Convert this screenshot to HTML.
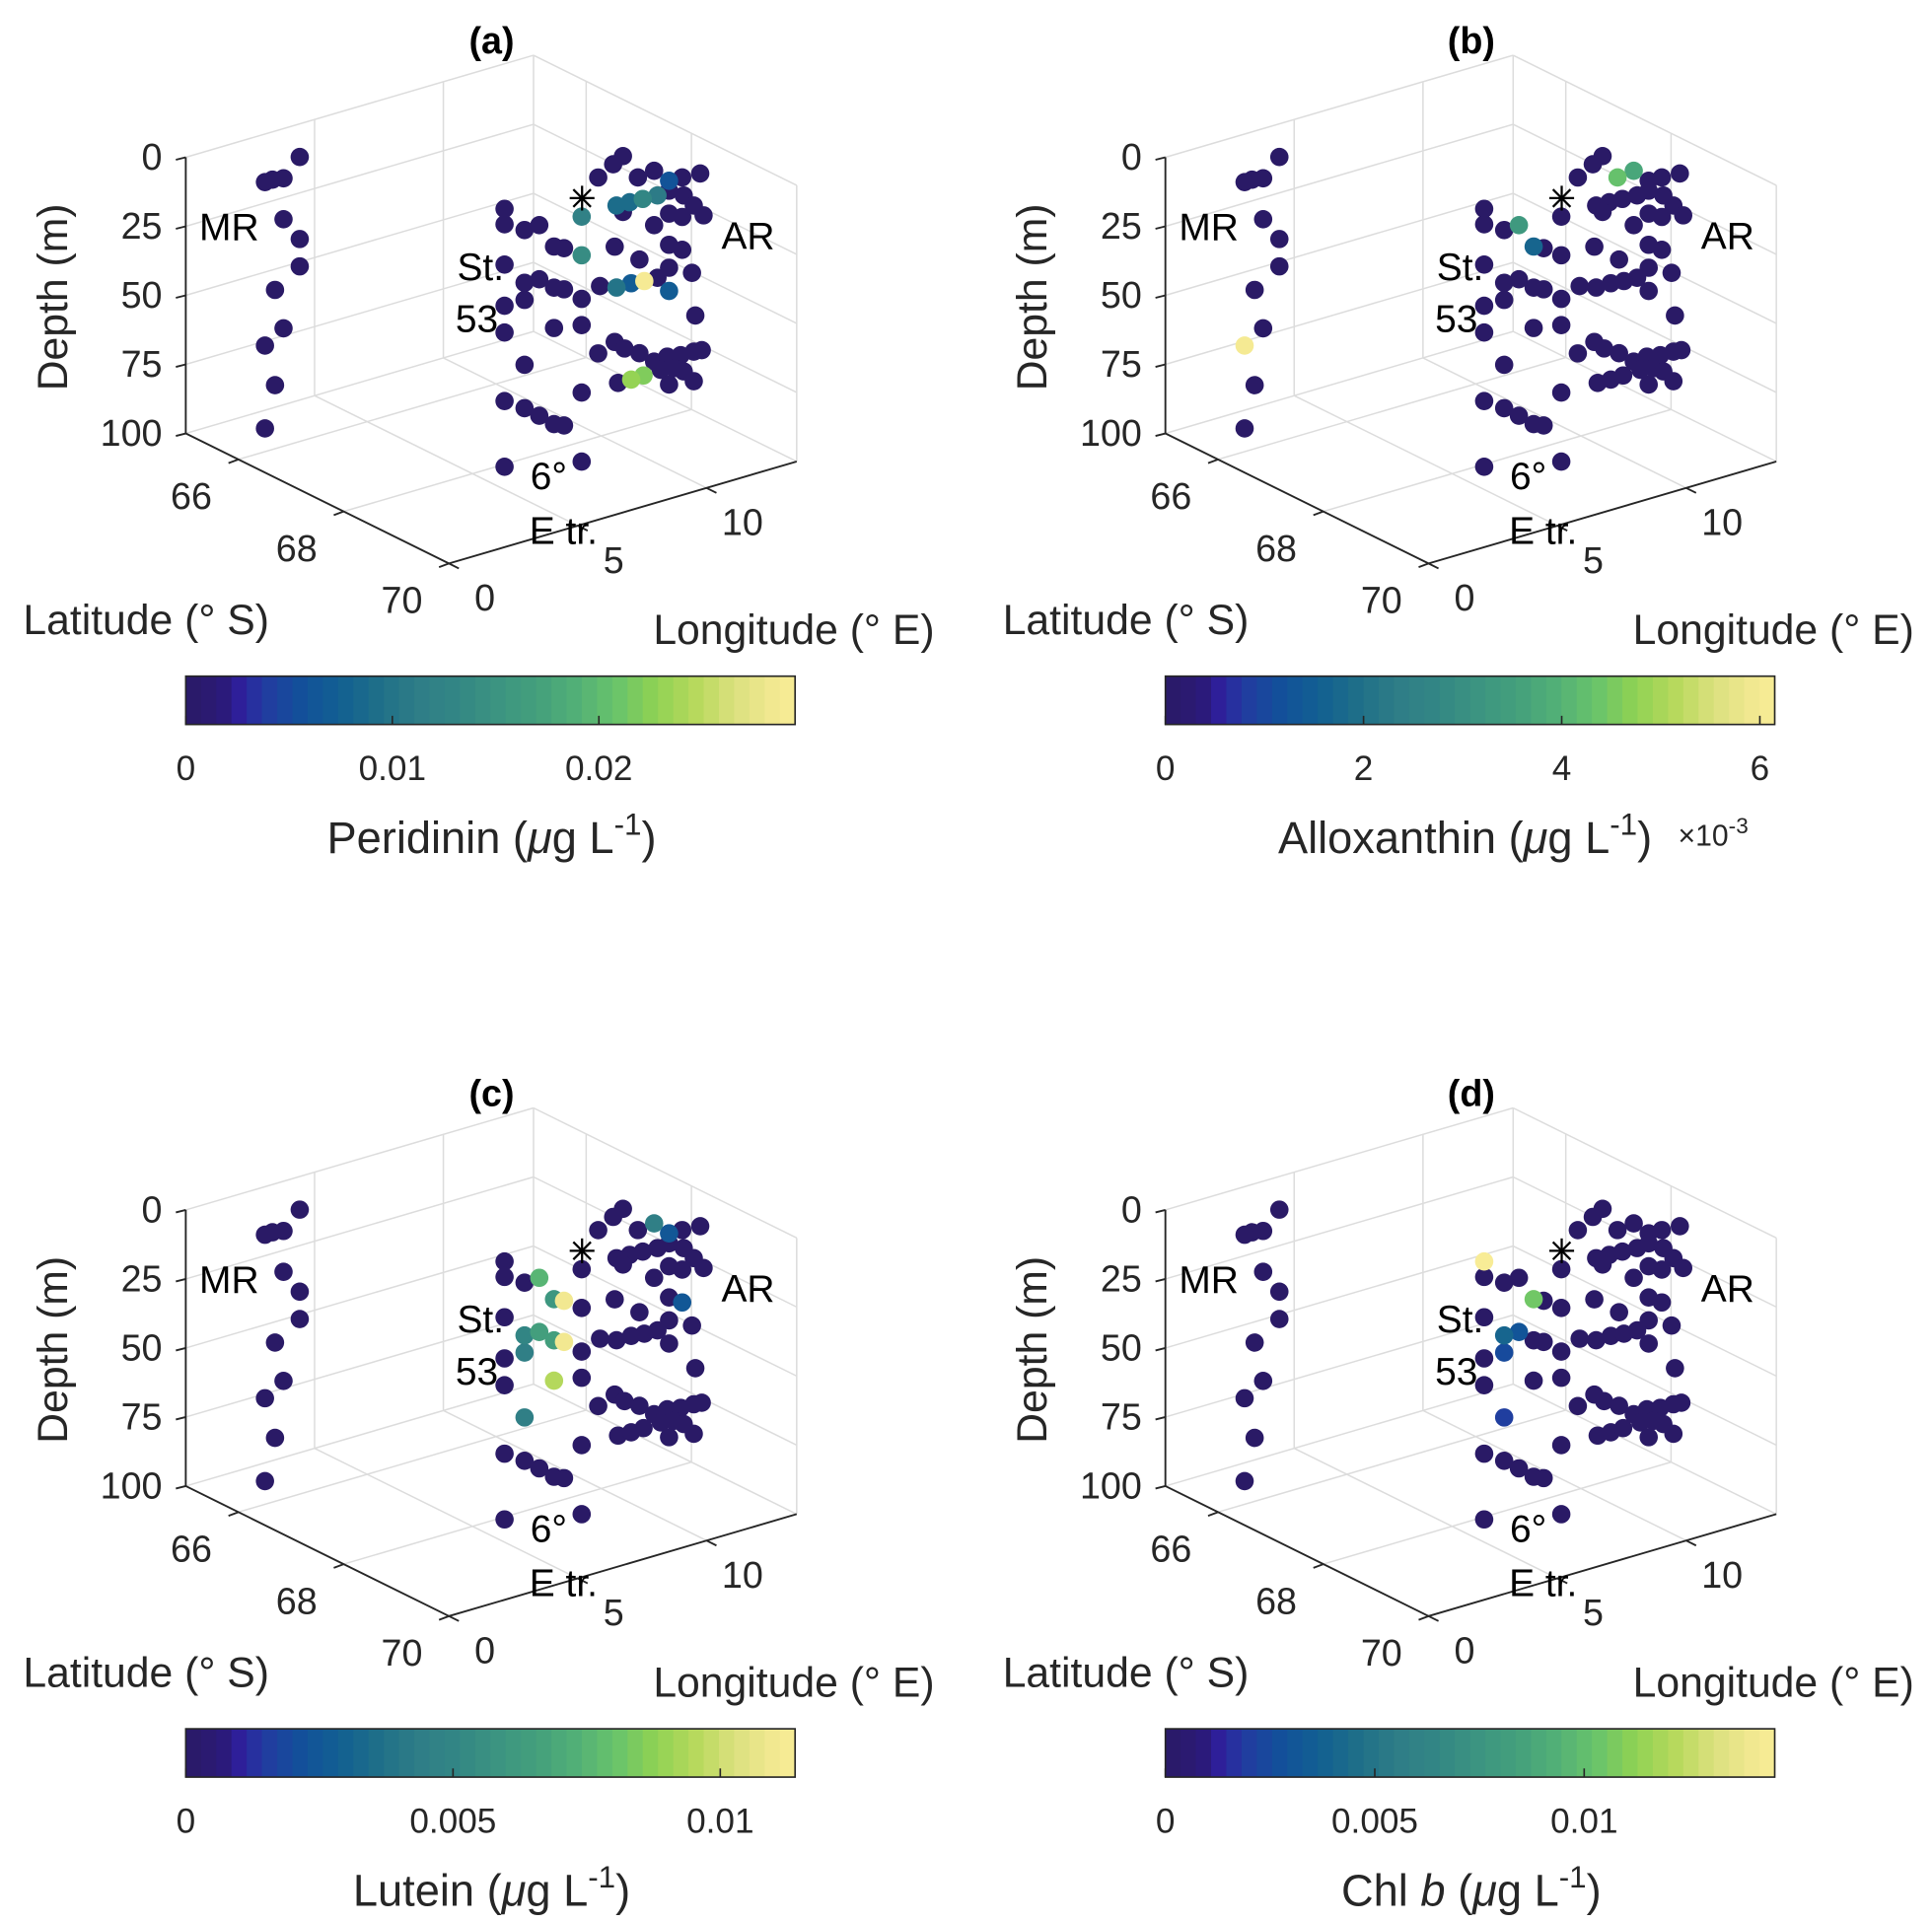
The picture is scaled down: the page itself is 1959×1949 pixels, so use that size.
<!DOCTYPE html>
<html><head><meta charset="utf-8">
<style>
html,body{margin:0;padding:0;background:#fff;}
svg{display:block;font-family:"Liberation Sans",Arial,sans-serif;}
</style></head>
<body>
<svg id="fig" width="1959" height="1949" viewBox="0 0 1560 1552" preserveAspectRatio="none" xmlns="http://www.w3.org/2000/svg"></svg>
<script>
// ---- shared station positions ----
const ptLon = [2.79,2.16,1.73,1.44,2.16,2.79,2.79,1.83,2.16,1.44,1.83,1.44,
 6,6,6,6,6,6,6,6,6,6,6,6,6,6,6,
 6,6,6,6,6,6,6,
 7.4,7.4,7.4,7.4,7.4,7.4,
 11.25,10.87,10.29,11.83,12.46,13.04,13.55,14.25,11.00,11.51,
 12.02,12.59,13.04,11.25,13.04,13.55,13.61,14.00,14.38,12.46,
 10.93,11.89,13.04,13.55,13.93,13.04,12.59,10.36,11.00,11.57,
 12.08,13.04,14.06,10.29,10.93,11.31,11.89,12.46,12.97,13.49,
 14.00,14.31,12.72,13.23,11.06,11.57,12.05,13.04,14.00,13.61];
const ptLat = [65.8,65.8,65.8,65.8,65.8,65.8,65.8,65.8,65.8,65.8,65.8,65.8,
 68.12,68.12,68.50,68.78,69.06,69.25,68.12,68.50,68.78,69.06,69.25,68.50,68.12,68.12,69.06,
 68.50,68.12,68.50,68.78,69.06,69.25,68.12,
 68.9,68.9,68.9,68.9,68.9,68.9,
 67.8,67.8,67.8,67.8,67.8,67.8,67.8,67.8,67.8,67.8,
 67.8,67.8,67.8,67.8,67.8,67.8,67.8,67.8,67.8,67.8,
 67.8,67.8,67.8,67.8,67.8,67.8,67.8,67.8,67.8,67.8,
 67.8,67.8,67.8,67.8,67.8,67.8,67.8,67.8,67.8,67.8,
 67.8,67.8,67.8,67.8,67.8,67.8,67.8,67.8,67.8,67.8];
const ptDepth = [0,6.0,5.3,5.4,20.8,29.7,39.6,45.5,60.3,64.6,80.0,94.6,
 5.7,11.3,9.8,5.4,10.5,9.3,25.9,28.9,25.0,25.4,24.2,35.1,40.8,50.5,40.0,
 58.6,75.3,74.3,74.4,74.8,73.5,99.1,
 5.0,19.0,34.8,44.3,68.7,93.7,
 4.0,5.9,9.1,13.3,12.6,17.8,18.0,18.5,21.2,21.4,
 21.6,21.9,21.4,24.2,29.7,32.3,24.7,29.4,34.0,32.3,
 35.9,43.2,41.0,44.2,53.6,49.3,51.7,48.6,50.9,50.9,
 51.5,57.7,69.4,72.8,70.4,73.8,77.1,81.7,81.3,82.2,
 82.3,82.6,85.4,86.2,85.6,85.8,85.6,91.6,93.0,88.4];
// ---- pigment values per panel ----
const peridinin = [0,0,0,0,0,0,0,0,0,0, 0,0,0,0,0,0,0,0,0,0,
 0,0,0,0,0,0,0,0,0,0, 0,0,0,0,0.012,0.014,0,0,0,0,
 0,0,0,0,0,0.006,0,0,0.009,0.009, 0.013,0.011,0,0,0,0,0,0,0,0,
 0,0,0,0,0,0,0,0,0.010,0.007, 0.029,0.007,0,0,0,0,0,0,0,0,
 0,0,0,0,0,0.023,0.022,0,0,0];
const alloxanthin = [0,0,0,0,0,0,0,0,0,6.0, 0,0,0,0,0,3.3,1.7,0,0,0,
 0,0,0,0,0,0,0,0,0,0, 0,0,0,0,0,0,0,0,0,0,
 0,0,0,4.3,3.7,0,0,0,0,0, 0,0,0,0,0,0,0,0,0,0,
 0,0,0,0,0,0,0,0,0,0, 0,0,0,0,0,0,0,0,0,0,
 0,0,0,0,0,0,0,0,0,0];
const lutein = [0,0,0,0,0,0,0,0,0,0, 0,0,0,0,0,0.0075,0.006,0.011,0,0.005,
 0.0065,0.0065,0.011,0.0045,0,0,0.0095,0.0045,0,0, 0,0,0,0,0,0,0,0,0,0,
 0,0,0,0,0.0045,0.0025,0,0,0,0, 0,0,0,0,0,0,0,0,0,0,
 0,0,0,0.0025,0,0,0,0,0,0, 0,0,0,0,0,0,0,0,0,0,
 0,0,0,0,0,0,0,0,0,0];
const chlb = [0,0,0,0,0,0,0,0,0,0, 0,0,0.0145,0,0,0,0.0105,0,0,0.004,
 0.003,0,0,0.0025,0,0,0,0.002,0,0, 0,0,0,0,0,0,0,0,0,0,
 0,0,0,0,0,0,0,0,0,0, 0,0,0,0,0,0,0,0,0,0,
 0,0,0,0,0,0,0,0,0,0, 0,0,0,0,0,0,0,0,0,0,
 0,0,0,0,0,0,0,0,0,0];
// ---- axis tick labels ----
const depthTicks = [0,25,50,75,100];
const latTicks = [66,68,70];
const lonTicks = [0,5,10];
const cbTicksA = [0,0.01,0.02];
const cbLabelsA = ["0","0.01","0.02"];
const cbTicksB = [0,2,4,6];
const cbLabelsB = ["0","2","4","6"];
const cbTicksC = [0,0.005,0.01];
const cbLabelsC = ["0","0.005","0.01"];
const cbTicksD = [0,0.005,0.01];
const cbLabelsD = ["0","0.005","0.01"];
const cbMax = [0.0295,6.15,0.0114,0.01455];

const svg = document.getElementById('fig');
const NS = 'http://www.w3.org/2000/svg';
function mk(tag, attrs, parent){ const e=document.createElementNS(NS,tag); for(const k in attrs) e.setAttribute(k,attrs[k]); (parent||svg).appendChild(e); return e; }

const stops=[[0,[42,26,102]],[0.06,[43,26,120]],[0.09,[46,31,156]],[0.125,[35,58,160]],[0.19,[18,80,154]],[0.25,[18,95,146]],[0.32,[31,112,136]],[0.38,[47,125,135]],[0.45,[51,135,132]],[0.51,[60,148,129]],[0.58,[68,160,124]],[0.64,[82,176,119]],[0.71,[106,196,106]],[0.77,[143,210,83]],[0.84,[184,217,93]],[0.9,[219,224,126]],[0.97,[244,233,146]],[1,[248,236,150]]];
function cmap(t){ t=Math.max(0,Math.min(1,t)); for(let i=1;i<stops.length;i++){ if(t<=stops[i][0]){ const a=stops[i-1],b=stops[i]; const f=(t-a[0])/(b[0]-a[0]); const c=a[1].map((v,j)=>Math.round(v+(b[1][j]-v)*f)); return `rgb(${c[0]},${c[1]},${c[2]})`; } } return 'rgb(248,236,150)'; }

const LONMAX=13.5, LATMIN=65, LATMAX=70;
function panel(ox, oy, vals, vmax, title, cbTicks, cbLabels, labelHtml, key){
  const g=mk('g',{});
  
  
  const X=(lon,lat,d)=>ox+150+(lat-65)*42.5+lon*20.8;
  const Y=(lon,lat,d)=>oy+127+d*2.23+(lat-65)*21-lon*6.1;
  const line=(a,b,col,w,name)=>{ const l=mk('line',{x1:X(...a),y1:Y(...a),x2:X(...b),y2:Y(...b),stroke:col,'stroke-width':w},g);   return l; };
  const GC='#dcdcdc';
  depthTicks.forEach(d=>line([0,LATMIN,d],[LONMAX,LATMIN,d],GC,1.2,'grid-line'));
  [5,10,LONMAX].forEach(lo=>line([lo,LATMIN,0],[lo,LATMIN,100],GC,1.2,'grid-line'));
  depthTicks.forEach(d=>line([LONMAX,LATMIN,d],[LONMAX,LATMAX,d],GC,1.2,'grid-line'));
  [66,68,LATMAX].forEach(la=>line([LONMAX,la,0],[LONMAX,la,100],GC,1.2,'grid-line'));
  latTicks.forEach(la=>line([0,la,100],[LONMAX,la,100],GC,1.2,'grid-line'));
  [5,10].forEach(lo=>line([lo,LATMIN,100],[lo,LATMAX,100],GC,1.2,'grid-line'));
  line([0,LATMIN,0],[0,LATMIN,100],'#262626',1.5,'depth-axis');
  line([0,LATMIN,100],[0,LATMAX,100],'#262626',1.5,'latitude-axis');
  line([0,LATMAX,100],[LONMAX,LATMAX,100],'#262626',1.5,'longitude-axis');
  depthTicks.forEach(d=>{
    const x=X(0,LATMIN,d), y=Y(0,LATMIN,d);
    const t=mk('line',{x1:x,y1:y,x2:x-8,y2:y+2,stroke:'#262626','stroke-width':1.5},g);
     
    const tx=mk('text',{x:x-19,y:y+10,'font-size':30,'text-anchor':'end',fill:'#262626'},g); tx.textContent=d;
     
  });
  latTicks.forEach(la=>{
    const x=X(0,la,100), y=Y(0,la,100);
    const t=mk('line',{x1:x,y1:y,x2:x-8,y2:y+3,stroke:'#262626','stroke-width':1.5},g);
     
    const tx=mk('text',{x:x-38,y:y+40,'font-size':30,'text-anchor':'middle',fill:'#262626'},g); tx.textContent=la;
     
  });
  lonTicks.forEach(lo=>{
    const x=X(lo,LATMAX,100), y=Y(lo,LATMAX,100);
    const t=mk('line',{x1:x,y1:y,x2:x+8,y2:y+4,stroke:'#262626','stroke-width':1.5},g);
     
    const tx=mk('text',{x:x+29,y:y+38,'font-size':30,'text-anchor':'middle',fill:'#262626'},g); tx.textContent=lo;
     
  });
  const idx=vals.map((v,i)=>i).sort((a,b)=>vals[a]-vals[b]);
  idx.forEach(i=>{
    const c=mk('circle',{cx:X(ptLon[i],ptLat[i],ptDepth[i]),cy:Y(ptLon[i],ptLat[i],ptDepth[i]),r:7.4,fill:cmap(vals[i]/vmax)},g);
    
    
  });
  const ann=[['MR',185,194],['AR',604,201],['St.',388,226],['53',385,268],['6°',443,395],['E tr.',455,439]];
  ann.forEach(a=>{ const t=mk('text',{x:ox+a[1],y:oy+a[2],'font-size':31,'text-anchor':'middle',fill:'#000'},g); t.textContent=a[0];
      });
  // asterisk station marker (drawn)
  const sx=ox+470, sy=oy+160, sr=10;
  const star=mk('g',{stroke:'#000','stroke-width':1.8},g);
  
  
  [[0,1],[1,0],[0.707,0.707],[0.707,-0.707]].forEach(v=>mk('line',{x1:sx-v[0]*sr,y1:sy-v[1]*sr,x2:sx+v[0]*sr,y2:sy+v[1]*sr},star));
  const dt=mk('text',{x:0,y:0,'font-size':34,'text-anchor':'middle',fill:'#262626',transform:`translate(${ox+54},${oy+240}) rotate(-90)`},g); dt.textContent='Depth (m)';
   
  const lt=mk('text',{x:ox+118,y:oy+512,'font-size':34,'text-anchor':'middle',fill:'#262626'},g); lt.textContent='Latitude (° S)';
   
  const ot=mk('text',{x:ox+641,y:oy+520,'font-size':34,'text-anchor':'middle',fill:'#262626'},g); ot.textContent='Longitude (° E)';
   
  const tt=mk('text',{x:ox+397,y:oy+43,'font-size':30,'font-weight':'bold','text-anchor':'middle',fill:'#000'},g); tt.textContent=title;
   
  const cx0=ox+150, cx1=ox+642, cy0=oy+546, cy1=oy+585, N=40;
  for(let k=0;k<N;k++){
    const r=mk('rect',{x:cx0+(cx1-cx0)*k/N,y:cy0,width:(cx1-cx0)/N+0.6,height:cy1-cy0,fill:cmap((k+0.5)/N)},g);
     
  }
  const fr=mk('rect',{x:cx0,y:cy0,width:cx1-cx0,height:cy1-cy0,fill:'none',stroke:'#262626','stroke-width':1.3},g);
   
  cbTicks.forEach((v,j)=>{
    const x=cx0+(cx1-cx0)*v/vmax;
    const t=mk('line',{x1:x,y1:cy1,x2:x,y2:cy1-7,stroke:'#262626','stroke-width':1.3},g);
     
    const tx=mk('text',{x:x,y:oy+630,'font-size':28,'text-anchor':'middle',fill:'#262626'},g); tx.textContent=cbLabels[j];
     
  });
  const lab=mk('text',{x:labelHtml.x,y:oy+689,'font-size':36,'text-anchor':'middle',fill:'#262626'},g);
   
  labelHtml.parts.forEach(p=>{ const s=mk('tspan',p.a||{},lab); s.textContent=p.t; });
  return g;
}
const unit=[{t:' ('},{t:'μ',a:{'font-style':'italic'}},{t:'g L'},{t:'-1',a:{dy:-15,'font-size':25}},{t:')',a:{dy:15}}];
panel(0,0,peridinin,cbMax[0],'(a)',cbTicksA,cbLabelsA,{x:397,parts:[{t:'Peridinin'}].concat(unit)},'a');
panel(791,0,alloxanthin,cbMax[1],'(b)',cbTicksB,cbLabelsB,{x:1183,parts:[{t:'Alloxanthin'}].concat(unit)},'b');
panel(0,850,lutein,cbMax[2],'(c)',cbTicksC,cbLabelsC,{x:397,parts:[{t:'Lutein'}].concat(unit)},'c');
panel(791,850,chlb,cbMax[3],'(d)',cbTicksD,cbLabelsD,{x:1188,parts:[{t:'Chl '},{t:'b',a:{'font-style':'italic'}}].concat(unit)},'d');
const ex=mk('text',{x:1355,y:683,'font-size':24,fill:'#262626'});


const e1=mk('tspan',{},ex); e1.textContent='×10';
const e2=mk('tspan',{dy:-10,'font-size':18},ex); e2.textContent='-3';
</script>
</body></html>
